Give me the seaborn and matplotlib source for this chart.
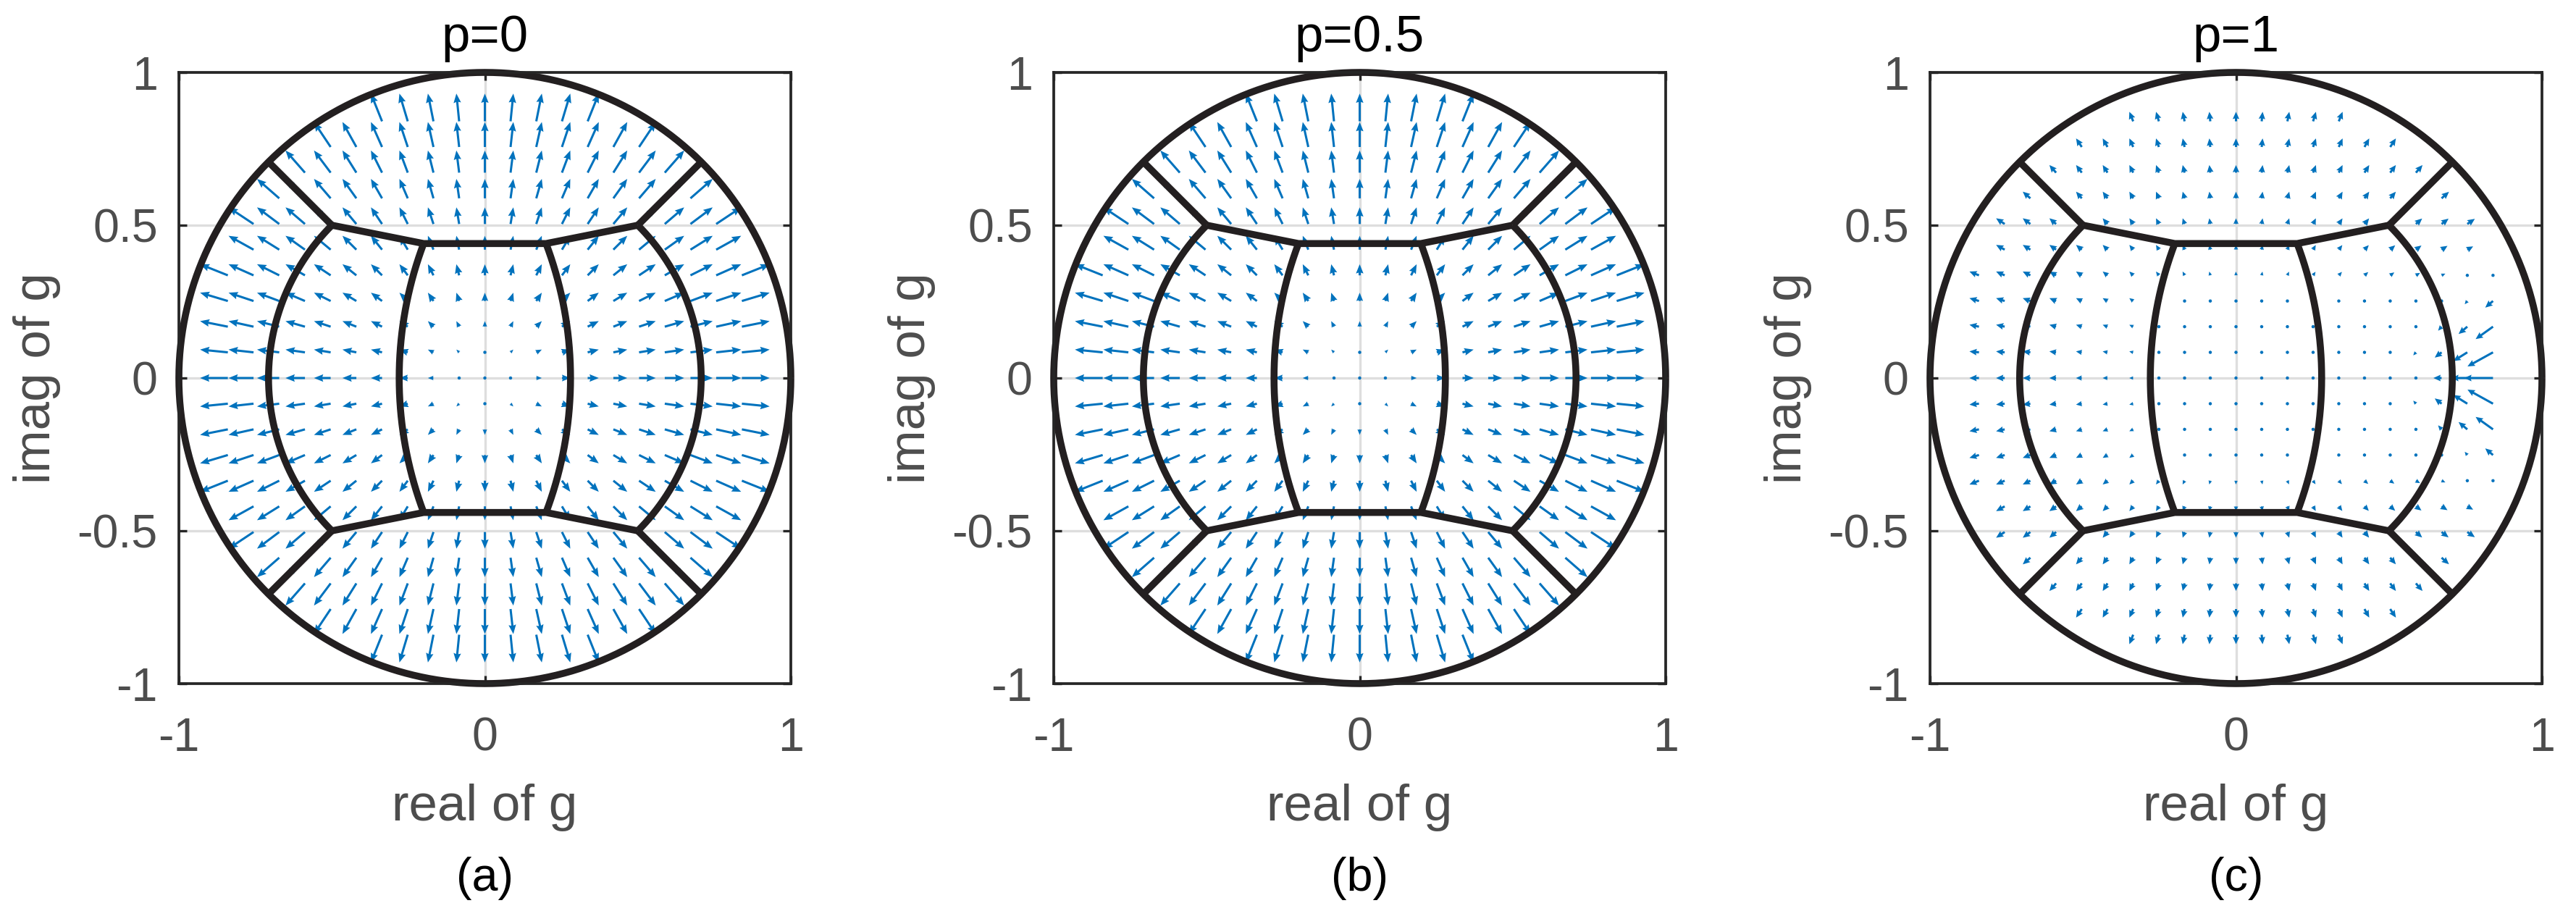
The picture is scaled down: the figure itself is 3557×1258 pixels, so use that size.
import numpy as np
import matplotlib
matplotlib.use("Agg")
import matplotlib.pyplot as plt
import seaborn as sns

# ------------------------------------------------------------------ data
panel_titles = ["p=0", "p=0.5", "p=1"]
panel_tags = ["(a)", "(b)", "(c)"]

# quiver sample grid (same in x and y)
grid_coords = [-0.84, -0.756, -0.672, -0.588, -0.504, -0.42, -0.336, -0.252,
               -0.168, -0.084, 0.0, 0.084, 0.168, 0.252, 0.336, 0.42, 0.504,
               0.588, 0.672, 0.756, 0.84]
grid_radius_limit = 0.92          # arrows drawn only inside this radius

# field read from the arrows: outward radial part + a sink on the right (p=1)
radial_gain = [0.108, 0.108, 0.037]
sink_amplitude = [0.0, 0.0, 0.125]
sink_edge_x = 0.84
sink_decay_x = 0.19
sink_spread_sq = 0.08
sink_converge = 0.55
sink_converge_scale = 0.08

x_ticks = [-1, 0, 1]
x_tick_labels = ["-1", "0", "1"]
y_ticks = [-1, -0.5, 0, 0.5, 1]
y_tick_labels = ["-1", "-0.5", "0", "0.5", "1"]

# region boundaries (vertices)
outer_radius = 1.0
spoke_outer = 0.707
spoke_inner = 0.5
top_poly_x = [-0.5, -0.2, 0.2, 0.5]
top_poly_y = [0.5, 0.44, 0.44, 0.5]
middle_radius = 0.707
inner_arc_corner_x = 0.2
inner_arc_corner_y = 0.44
inner_arc_mid_x = 0.28

# ------------------------------------------------------------------ style
sns.set_theme(style="white")
plt.rcParams["font.family"] = ["Liberation Sans", "DejaVu Sans"]
plt.rcParams["axes.unicode_minus"] = False

W, H, DPI = 3557, 1258, 300
fig = plt.figure(figsize=(W / DPI, H / DPI), dpi=DPI)
fig.patch.set_facecolor("white")

ARROW = "#0072BD"
LINE = "#231F20"
TXT = "#4D4D4D"
AXC = "#262626"

ax_left_px = [247, 1455, 2665]
ax_w_px, ax_h_px = 845, 844
ax_top_px = 100

head_styles = [dict(headwidth=3.4, headlength=4.2, headaxislength=3.8),
               dict(headwidth=3.4, headlength=4.2, headaxislength=3.8),
               dict(headwidth=3.0, headlength=3.3, headaxislength=3.0)]


def boundary_segments():
    segs = []
    t = np.linspace(0, 2 * np.pi, 721)
    segs.append((outer_radius * np.cos(t), outer_radius * np.sin(t)))
    for sx in (-1, 1):
        for sy in (-1, 1):
            segs.append((np.array([sx * spoke_outer, sx * spoke_inner]),
                         np.array([sy * spoke_outer, sy * spoke_inner])))
    for sy in (-1, 1):
        segs.append((np.array(top_poly_x), sy * np.array(top_poly_y)))
    a = np.deg2rad(np.linspace(-45, 45, 181))
    for sx in (-1, 1):
        segs.append((sx * middle_radius * np.cos(a), middle_radius * np.sin(a)))
    x0, y0, xm = inner_arc_corner_x, inner_arc_corner_y, inner_arc_mid_x
    c = (x0 ** 2 + y0 ** 2 - xm ** 2) / (2 * (x0 - xm))
    R = xm - c
    phi = np.arctan2(y0, x0 - c)
    b = np.linspace(-phi, phi, 181)
    for sx in (-1, 1):
        segs.append((sx * (c + R * np.cos(b)), R * np.sin(b)))
    return segs


X, Y = np.meshgrid(np.array(grid_coords), np.array(grid_coords))
mask = np.hypot(X, Y) < grid_radius_limit

for i in range(3):
    left = ax_left_px[i] / W
    bottom = (H - ax_top_px - ax_h_px) / H
    ax = fig.add_axes([left, bottom, ax_w_px / W, ax_h_px / H])
    ax.set_facecolor("white")

    # vector field
    U = radial_gain[i] * X
    V = radial_gain[i] * Y
    env = sink_amplitude[i] * np.exp((X - sink_edge_x) / sink_decay_x) * np.exp(-Y ** 2 / sink_spread_sq)
    U = U - env
    V = V - env * sink_converge * np.tanh(Y / sink_converge_scale)
    ax.quiver(X[mask], Y[mask], U[mask], V[mask], angles="xy", scale_units="xy",
              scale=1, pivot="tail", color=ARROW, width=0.0036,
              minlength=1.6, zorder=3, **head_styles[i])

    # boundaries
    for xs, ys in boundary_segments():
        sns.lineplot(x=xs, y=ys, ax=ax, sort=False, estimator=None, color=LINE,
                     linewidth=2.3, clip_on=False, zorder=4,
                     solid_capstyle="butt", solid_joinstyle="miter")

    ax.set_xlim(-1, 1)
    ax.set_ylim(-1, 1)
    ax.set_xticks(x_ticks)
    ax.set_xticklabels(x_tick_labels)
    ax.set_yticks(y_ticks)
    ax.set_yticklabels(y_tick_labels)
    ax.grid(True, color="#DEDEDE", linewidth=0.8)
    ax.set_axisbelow(True)
    ax.tick_params(direction="in", length=2.6, width=0.8, color=AXC,
                   bottom=True, left=True, top=True, right=True,
                   labelsize=15.5, labelcolor=TXT)
    ax.tick_params(axis="x", pad=11.0)
    ax.tick_params(axis="y", pad=7.0)
    for s in ax.spines.values():
        s.set_visible(True)
        s.set_color(AXC)
        s.set_linewidth(0.9)
        s.set_zorder(5)

    ax.set_xlabel("real of g", fontsize=17, color=TXT, va="center")
    ax.xaxis.set_label_coords(0.5, -0.203)
    ax.set_ylabel("imag of g", fontsize=17, color=TXT, va="center")
    ax.yaxis.set_label_coords(-0.232, 0.5)
    ax.set_title(panel_titles[i], fontsize=17, color="black", y=1.034, pad=0)
    ax.text(0.5, -0.319, panel_tags[i], transform=ax.transAxes, ha="center",
            va="center", fontsize=15.5, color="black")

fig.savefig("out.png", dpi=DPI, facecolor="white")
